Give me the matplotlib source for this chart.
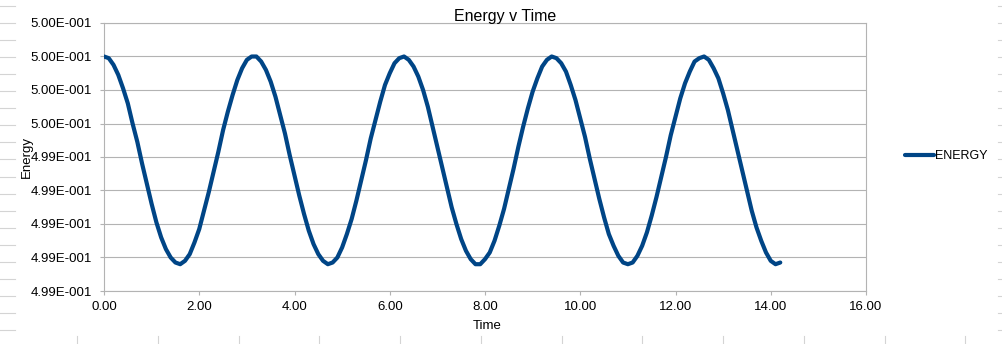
import numpy as np
import matplotlib
matplotlib.use("Agg")
from matplotlib import pyplot as plt
from matplotlib.lines import Line2D
from matplotlib.ticker import FuncFormatter, MultipleLocator

plt.rcParams['font.family'] = ['Liberation Sans', 'DejaVu Sans']

# --- данные: время (шаг 0.1) и энергия в единицах 1e-5 ---
time = np.round(np.arange(143) * 0.1, 1)
energy_e5 = [
    50000, 49999, 49995, 49989, 49981, 49972, 49960, 49949, 49936, 49924,
    49912, 49901, 49892, 49885, 49880, 49877, 49876, 49878, 49882, 49889,
    49897, 49908, 49919, 49931, 49943, 49956, 49967, 49977, 49986, 49993,
    49998, 50000, 50000, 49997, 49992, 49985, 49976, 49965, 49954, 49941,
    49929, 49917, 49906, 49896, 49888, 49882, 49878, 49876, 49877, 49880,
    49886, 49894, 49903, 49914, 49926, 49938, 49951, 49962, 49973, 49983,
    49990, 49996, 49999, 50000, 49998, 49994, 49988, 49980, 49970, 49958,
    49946, 49934, 49922, 49910, 49900, 49891, 49884, 49879, 49876, 49876,
    49879, 49883, 49890, 49899, 49909, 49921, 49933, 49946, 49958, 49969,
    49979, 49987, 49994, 49998, 50000, 49999, 49996, 49991, 49983, 49974,
    49963, 49952, 49939, 49927, 49915, 49904, 49894, 49887, 49881, 49877,
    49876, 49877, 49881, 49887, 49895, 49905, 49916, 49928, 49940, 49953,
    49964, 49975, 49984, 49991, 49997, 49999, 50000, 49998, 49993, 49987,
    49978, 49968, 49956, 49944, 49932, 49920, 49908, 49898, 49890, 49883,
    49878, 49876, 49877,
]
energy = np.array(energy_e5) * 1e-5

x_ticks = np.arange(0, 17, 2)
y_min, y_max, y_step = 0.4986, 0.5002, 0.0002

grey = '#b3b3b3'
cell_grey = '#d4d4d4'
blue = '#004586'
W, H = 1002, 344


def sci_fmt(v, pos):
    # формат как в таблице: 5.00E-001
    if v == 0:
        return '0.00E+000'
    e = int(np.floor(np.log10(abs(v))))
    m = v / 10 ** e
    if round(m, 2) >= 10:
        m /= 10
        e += 1
    sign = '-' if e < 0 else '+'
    return f'{m:.2f}E{sign}{abs(e):03d}'


fig = plt.figure(figsize=(W / 100, H / 100), dpi=100)
ax = fig.add_axes([104 / W, 1 - 291 / H, (866 - 104) / W, (291 - 23) / H])

ax.plot(time, energy, color=blue, linewidth=3, label='ENERGY',
        solid_joinstyle='round', solid_capstyle='round', zorder=3)

ax.set_xlim(0, 16)
ax.set_ylim(y_min, y_max)
ax.set_xticks(x_ticks)
ax.xaxis.set_major_formatter(FuncFormatter(lambda v, p: f'{v:.2f}'))
ax.yaxis.set_major_locator(MultipleLocator(y_step))
ax.yaxis.set_major_formatter(FuncFormatter(sci_fmt))
ax.grid(axis='y', color=grey, linewidth=0.8)
ax.set_axisbelow(True)

for s in ax.spines.values():
    s.set_color(grey)
    s.set_linewidth(0.8)
ax.tick_params(axis='both', colors=grey, length=3, width=0.8, labelcolor='black',
               labelsize=9.5)
ax.tick_params(axis='y', pad=5.5)
ax.tick_params(axis='x', pad=4)

fig.text(505 / W, 1 - 21 / H, 'Energy v Time', ha='center', va='baseline', fontsize=11.5)
fig.text(487 / W, 1 - 326 / H, 'Time', ha='center', va='center', fontsize=9.5)
fig.text(27 / W, 1 - 157 / H, 'Energy', ha='center', va='center', rotation=90, fontsize=9.5)

ax.legend(loc='center left', bbox_to_anchor=(905 / W, 1 - 156 / H),
          bbox_transform=fig.transFigure, frameon=False, fontsize=9,
          handlelength=2.3, handletextpad=0.1, borderpad=0, borderaxespad=0)

# края ячеек листа вокруг диаграммы
for k in range(20):
    y = 1 - (6 + 17.05 * k) / H
    fig.add_artist(Line2D([0, 15 / W], [y, y], color=cell_grey, linewidth=0.8))
    fig.add_artist(Line2D([998 / W, 1], [y, y], color=cell_grey, linewidth=0.8))
for k in range(12):
    x = (77 + 80.75 * k) / W
    fig.add_artist(Line2D([x, x], [0, 8 / H], color=cell_grey, linewidth=0.8))

fig.savefig('out.png', dpi=100)
